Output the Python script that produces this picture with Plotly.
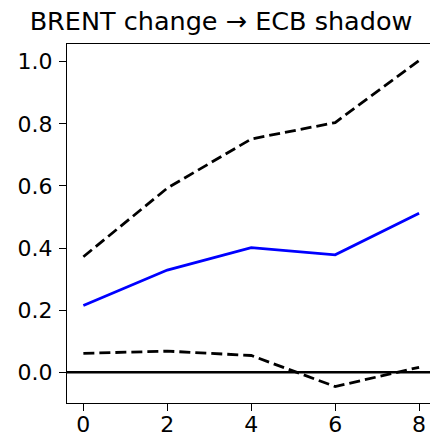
import plotly.graph_objects as go

horizon = [0, 2, 4, 6, 8]
irf = [0.215, 0.329, 0.401, 0.378, 0.512]
upper = [0.372, 0.593, 0.751, 0.804, 1.004]
lower = [0.061, 0.068, 0.054, -0.046, 0.016]
x_ticks = [0, 2, 4, 6, 8]
y_ticks = [0.0, 0.2, 0.4, 0.6, 0.8, 1.0]
title_text = "BRENT change → ECB shadow"

W, H = 430, 436
ml, mt, mb, mr = 67, 44, 33, 0

fig = go.Figure()
fig.add_trace(go.Scatter(x=horizon, y=upper, mode="lines",
                         line=dict(color="black", width=2.8, dash="11px,5px")))
fig.add_trace(go.Scatter(x=horizon, y=lower, mode="lines",
                         line=dict(color="black", width=2.8, dash="11px,5px")))
fig.add_trace(go.Scatter(x=horizon, y=irf, mode="lines",
                         line=dict(color="#0000ff", width=2.8)))
fig.add_shape(type="line", xref="paper", yref="y", x0=0, x1=1, y0=0, y1=0,
              line=dict(color="black", width=2.4))

fig.update_layout(
    width=W, height=H,
    margin=dict(l=ml, r=mr, t=mt, b=mb, pad=0),
    paper_bgcolor="white", plot_bgcolor="white",
    showlegend=False,
    font=dict(family="DejaVu Sans", size=22, color="black"),
    title=dict(text=title_text, x=221 / W, xanchor="center",
               y=1 - 21 / H, yanchor="middle", yref="container",
               font=dict(family="DejaVu Sans", size=25.5, color="black")),
    xaxis=dict(range=[-0.39, 8.26], tickvals=x_ticks, ticktext=[str(v) for v in x_ticks],
               showgrid=False, zeroline=False, showline=True, linecolor="black",
               linewidth=1.3, mirror=True, ticks="outside", ticklen=7, tickwidth=1.3,
               tickcolor="black", ticklabelstandoff=-6, automargin=False),
    yaxis=dict(range=[-0.099, 1.057], tickvals=y_ticks,
               ticktext=["%.1f" % v for v in y_ticks],
               showgrid=False, zeroline=False, showline=True, linecolor="black",
               linewidth=1.3, ticks="outside", ticklen=7, tickwidth=1.3,
               tickcolor="black", ticklabelstandoff=2, automargin=False),
)
fig.write_html("out.html")
